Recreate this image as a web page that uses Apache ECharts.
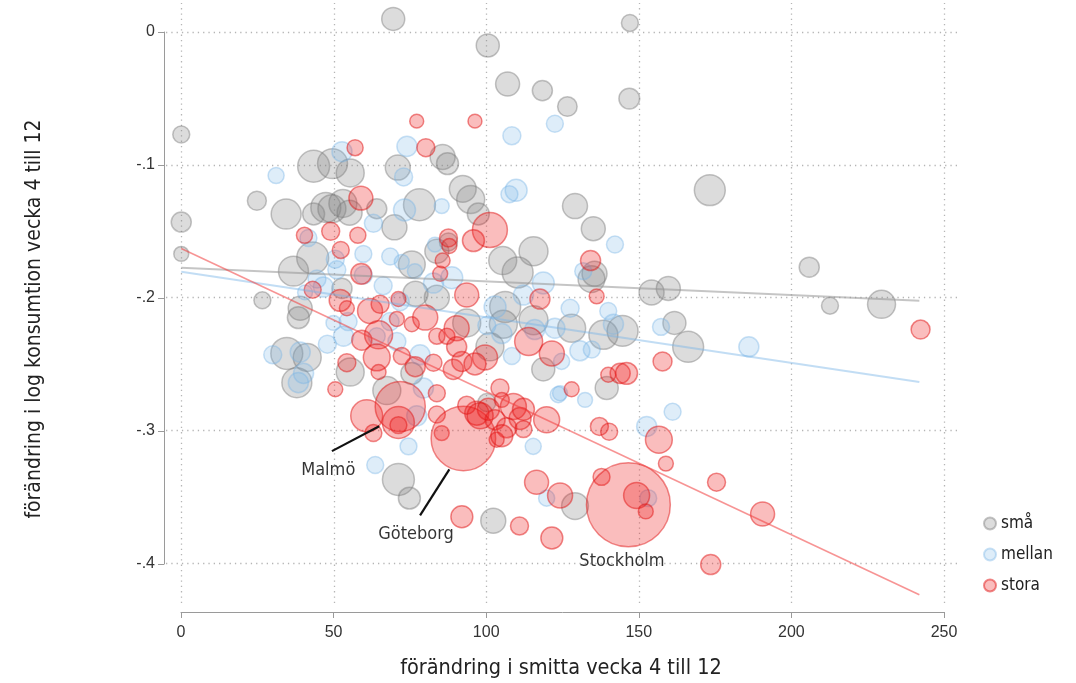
<!DOCTYPE html>
<html><head><meta charset="utf-8">
<script src="https://cdn.jsdelivr.net/npm/echarts@6/dist/echarts.min.js"></script>
<style>html,body{margin:0;padding:0;background:#fff}#c{width:1076px;height:683px}</style>
</head><body><div id="c"></div>
<script>
// ---- data: [x = förändring i smitta, y = förändring i log konsumtion, weight] ----
const sma = [
[69.5,0.010,74],[147.1,0.007,40],[100.5,-0.010,74],[107.0,-0.039,80],[118.4,-0.044,56],[126.6,-0.056,53],
[146.9,-0.050,60],[0.0,-0.077,40],[173.3,-0.119,133],[129.1,-0.131,87],[135.1,-0.148,80],[0.0,-0.143,56],
[0.0,-0.167,31],[24.8,-0.127,50],[26.6,-0.202,40],[43.4,-0.101,142],[49.6,-0.099,125],[55.4,-0.106,109],
[71.0,-0.102,87],[85.7,-0.094,87],[87.3,-0.099,67],[34.4,-0.137,125],[43.4,-0.137,67],[47.4,-0.132,125],
[49.4,-0.133,109],[53.0,-0.129,109],[55.2,-0.136,87],[64.1,-0.133,56],[69.9,-0.147,87],[78.1,-0.130,142],
[92.3,-0.118,100],[94.9,-0.126,109],[97.4,-0.137,67],[105.4,-0.172,109],[115.5,-0.165,117],[110.3,-0.181,133],
[134.5,-0.186,100],[135.5,-0.182,87],[75.6,-0.175,100],[83.8,-0.165,80],[87.6,-0.158,45],[76.8,-0.197,87],
[83.8,-0.200,87],[43.1,-0.170,142],[36.8,-0.180,125],[52.7,-0.193,56],[39.0,-0.208,80],[38.4,-0.215,67],
[34.6,-0.242,142],[41.3,-0.245,109],[37.9,-0.264,125],[55.4,-0.256,109],[67.4,-0.270,109],[75.6,-0.257,67],
[93.6,-0.219,109],[106.2,-0.207,133],[105.6,-0.220,109],[115.5,-0.217,117],[128.0,-0.223,109],[138.4,-0.228,117],
[144.7,-0.225,133],[161.7,-0.219,74],[166.2,-0.237,133],[154.2,-0.196,87],[159.7,-0.193,80],[118.7,-0.254,74],
[139.5,-0.268,74],[101.2,-0.237,109],[100.2,-0.279,45],[205.9,-0.177,56],[212.7,-0.206,40],[229.6,-0.205,109],
[71.2,-0.337,142],[74.8,-0.351,67],[102.3,-0.368,87],[129.1,-0.357,100]
];
const mellan = [
[31.1,-0.108,36],[74.0,-0.086,56],[52.7,-0.090,56],[72.9,-0.109,45],[85.4,-0.131,31],[73.2,-0.134,67],
[63.0,-0.144,45],[108.4,-0.078,45],[122.5,-0.069,40],[109.8,-0.119,67],[107.6,-0.122,40],[142.2,-0.160,40],
[118.7,-0.189,67],[112.2,-0.198,56],[127.5,-0.208,45],[131.8,-0.180,40],[140.0,-0.210,40],[141.7,-0.220,56],
[102.9,-0.207,67],[157.3,-0.222,40],[186.1,-0.237,56],[122.5,-0.223,56],[130.7,-0.240,56],[134.6,-0.239,40],
[108.4,-0.244,40],[124.7,-0.248,36],[123.6,-0.273,36],[132.4,-0.277,31],[161.1,-0.286,40],[152.6,-0.297,56],
[153.1,-0.351,40],[74.5,-0.312,40],[63.6,-0.326,40],[115.4,-0.312,36],[124.2,-0.272,31],[77.2,-0.289,56],
[119.8,-0.351,36],[38.4,-0.264,56],[30.0,-0.243,45],[39.0,-0.241,56],[40.1,-0.257,56],[47.9,-0.235,45],
[53.2,-0.229,56],[54.7,-0.218,45],[49.9,-0.219,31],[64.1,-0.229,40],[70.7,-0.233,45],[78.3,-0.243,56],
[79.4,-0.268,56],[68.5,-0.169,40],[72.3,-0.173,31],[76.6,-0.180,31],[83.2,-0.160,31],[82.7,-0.189,56],
[88.7,-0.185,67],[66.2,-0.191,45],[59.7,-0.167,40],[50.5,-0.171,45],[41.7,-0.155,40],[51.0,-0.179,45],
[40.6,-0.196,31],[59.7,-0.183,45],[46.6,-0.192,56],[44.5,-0.186,45],[71.8,-0.203,45],[105.1,-0.227,56],
[115.9,-0.224,56],[100.2,-0.221,45],[68.5,-0.218,45]
];
const stora = [
[77.2,-0.067,27],[96.3,-0.067,27],[57.0,-0.087,36],[80.2,-0.087,45],[58.9,-0.125,80],[101.2,-0.149,170],
[95.8,-0.157,67],[87.6,-0.155,45],[87.9,-0.161,31],[85.7,-0.172,31],[84.9,-0.182,31],[134.2,-0.172,56],
[136.2,-0.199,31],[93.6,-0.198,80],[117.6,-0.201,56],[40.4,-0.153,36],[49.0,-0.150,45],[57.9,-0.153,36],
[52.3,-0.164,40],[59.0,-0.182,60],[43.1,-0.194,40],[52.1,-0.202,67],[54.3,-0.208,31],[61.9,-0.210,87],
[65.2,-0.205,45],[71.2,-0.201,31],[75.6,-0.220,31],[80.0,-0.215,87],[83.8,-0.229,36],[90.3,-0.223,87],
[59.2,-0.232,56],[64.7,-0.228,109],[70.7,-0.216,31],[87.1,-0.229,36],[90.3,-0.237,56],[64.1,-0.245,100],
[72.3,-0.244,40],[76.7,-0.252,56],[82.7,-0.249,40],[89.2,-0.254,56],[92.0,-0.248,56],[99.6,-0.245,87],
[96.3,-0.250,67],[54.3,-0.249,45],[64.7,-0.256,31],[50.5,-0.269,31],[113.9,-0.233,109],[121.5,-0.242,87],
[128.0,-0.269,31],[140.0,-0.258,31],[137.1,-0.297,45],[140.3,-0.301,40],[143.9,-0.257,56],[146.0,-0.257,67],
[157.8,-0.248,50],[60.8,-0.289,142],[71.8,-0.282,350],[71.2,-0.294,142],[71.2,-0.296,40],[63.0,-0.302,40],
[83.8,-0.288,40],[83.8,-0.272,40],[85.4,-0.302,31],[92.5,-0.306,580],
[96.9,-0.287,80],[104.5,-0.268,45],[105.1,-0.277,31],[100.7,-0.284,67],[102.9,-0.292,56],[108.9,-0.282,94],
[111.1,-0.291,67],[106.7,-0.298,56],[103.4,-0.307,31],[112.2,-0.299,40],[119.8,-0.292,94],[93.6,-0.281,45],
[98.0,-0.289,94],[105.1,-0.304,67],[112.2,-0.284,67],
[156.6,-0.307,100],[158.9,-0.325,31],[175.5,-0.339,45],[190.6,-0.363,80],[173.6,-0.401,56],[137.8,-0.335,40],
[146.6,-0.356,980],[149.3,-0.349,94],[152.3,-0.361,31],[124.2,-0.349,87],[121.5,-0.381,67],[92.0,-0.365,67],
[110.9,-0.372,45],[116.5,-0.339,80],[242.4,-0.224,50]
];
// linear fit endpoints
const fitSma = [[0,-0.1775],[242,-0.2023]];
const fitMellan = [[0,-0.1805],[242,-0.2635]];
const fitStora = [[0,-0.1630],[242,-0.4238]];
// annotations
const annotLabels = [{name:'Malmö', value:[48.2,-0.330]},{name:'Göteborg', value:[77.0,-0.378]},{name:'Stockholm', value:[144.5,-0.3985]}];
const annotLines = [[[49.4,-0.3156],[64.9,-0.2968]],[[78.3,-0.364],[87.9,-0.3293]]];
// axes
const xTicks = [0,50,100,150,200,250];
const yTicks = [0,-0.1,-0.2,-0.3,-0.4];
const yTickLabels = ['0','-.1','-.2','-.3','-.4'];
const xTitle = 'förändring i smitta vecka 4 till 12';
const yTitle = 'förändring i log konsumtion vecka 4 till 12';

const XMIN=-5, XMAX=255, YMIN=-0.43, YMAX=0.022;
const NARROW = "'Liberation Sans Narrow','DejaVu Sans Condensed','Roboto Condensed',sans-serif";

const gridLines = xTicks.map(v=>({coords:[[v,YMIN],[v,YMAX]]})).concat(yTicks.map(v=>({coords:[[XMIN,v],[XMAX,v]]})));
const size = v => Math.sqrt(v[2])*2.68;

const chart = echarts.init(document.getElementById('c'), null, {renderer:'canvas'});
chart.setOption({
  animation:false,
  backgroundColor:'#fff',
  grid:[{left:166, top:3, width:793, height:600},{left:181, top:32, width:763, height:532}],
  xAxis:[
    {gridIndex:0, type:'value', min:XMIN, max:XMAX, show:false},
    {gridIndex:1, type:'value', min:0, max:250, interval:50, offset:48, position:'bottom',
     axisLine:{onZero:false, lineStyle:{color:'#9a9a9a', width:1}}, axisTick:{length:6, lineStyle:{color:'#9a9a9a'}},
     axisLabel:{fontFamily:'Liberation Sans, Arial, sans-serif', fontSize:16, color:'#333', margin:13},
     splitLine:{show:false}}
  ],
  yAxis:[
    {gridIndex:0, type:'value', min:YMIN, max:YMAX, show:false},
    {gridIndex:1, type:'value', min:-0.4, max:0, interval:0.1, offset:17, position:'left',
     axisLine:{show:true, onZero:false, lineStyle:{color:'#9a9a9a', width:1}}, axisTick:{show:true, length:6, lineStyle:{color:'#9a9a9a'}},
     axisLabel:{fontFamily:'Liberation Sans, Arial, sans-serif', fontSize:16, color:'#333', margin:9,
       formatter: v => { const i = yTicks.findIndex(t=>Math.abs(t-v)<1e-9); return i>=0 ? yTickLabels[i] : ''; }},
     splitLine:{show:false}}
  ],
  legend:{
    data:['små','mellan','stora'], orient:'vertical', left:978, top:510, itemWidth:12, itemHeight:12, itemGap:14,
    icon:'circle', textStyle:{fontFamily:NARROW, fontSize:17, color:'#222'}
  },
  graphic:[
    {type:'text', x:35, y:319, rotation:Math.PI/2, style:{text:yTitle, fontFamily:NARROW, fontSize:21, fill:'#222', textAlign:'center', textVerticalAlign:'middle'}},
    {type:'text', x:561, y:668, style:{text:xTitle, fontFamily:NARROW, fontSize:21.5, fill:'#222', textAlign:'center', textVerticalAlign:'middle'}}
  ],
  series:[
    {type:'lines', coordinateSystem:'cartesian2d', xAxisIndex:0, yAxisIndex:0, z:0, silent:true,
     data:gridLines, lineStyle:{color:'#b5b5b5', width:1.3, type:[1.3,4], opacity:1}},
    {name:'små', type:'scatter', xAxisIndex:0, yAxisIndex:0, data:sma, symbolSize:size, z:2, clip:false,
     itemStyle:{color:'rgba(128,128,128,0.34)', borderColor:'rgba(120,120,120,0.55)', borderWidth:1.5}},
    {name:'mellan', type:'scatter', xAxisIndex:0, yAxisIndex:0, data:mellan, symbolSize:size, z:3, clip:false,
     itemStyle:{color:'rgba(120,180,230,0.30)', borderColor:'rgba(120,180,230,0.50)', borderWidth:1.5}},
    {name:'stora', type:'scatter', xAxisIndex:0, yAxisIndex:0, data:stora, symbolSize:size, z:4, clip:false,
     itemStyle:{color:'rgba(238,30,30,0.37)', borderColor:'rgba(225,20,20,0.62)', borderWidth:1.5}},
    {type:'line', xAxisIndex:0, yAxisIndex:0, data:fitSma, symbol:'none', z:5, silent:true,
     lineStyle:{color:'rgba(150,150,150,0.55)', width:2}},
    {type:'line', xAxisIndex:0, yAxisIndex:0, data:fitMellan, symbol:'none', z:5, silent:true,
     lineStyle:{color:'rgba(120,180,230,0.45)', width:2}},
    {type:'line', xAxisIndex:0, yAxisIndex:0, data:fitStora, symbol:'none', z:5, silent:true,
     lineStyle:{color:'rgba(240,60,60,0.55)', width:1.6}},
    {type:'lines', coordinateSystem:'cartesian2d', xAxisIndex:0, yAxisIndex:0, z:6, silent:true,
     data:annotLines.map(c=>({coords:c})), lineStyle:{color:'#111', width:2.2, opacity:1}},
    {type:'scatter', xAxisIndex:0, yAxisIndex:0, data:annotLabels, symbolSize:1, z:7, silent:true,
     itemStyle:{color:'rgba(0,0,0,0)'},
     label:{show:true, position:'inside', formatter:'{b}', fontFamily:NARROW, fontSize:18, color:'#000'}}
  ]
});
</script></body></html>
